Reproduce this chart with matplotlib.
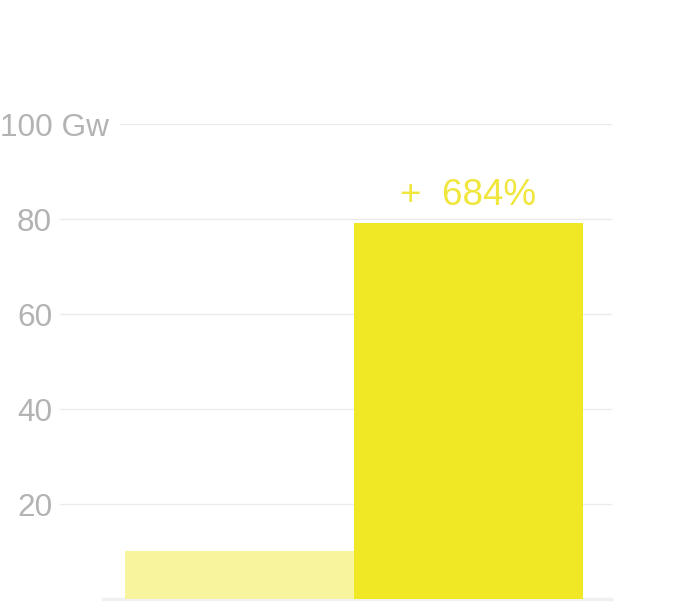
import matplotlib.pyplot as plt

# data
categories = ["before", "after"]
values = [10.1, 79.2]
bar_colors = ["#f8f39d", "#f0e824"]
tick_values = [20, 40, 60, 80, 100]
tick_labels = ["20", "40", "60", "80", "100 Gw"]
change_label = "+  684%"

W, H = 680, 609
fig = plt.figure(figsize=(W / 100, H / 100), dpi=100)
fig.patch.set_facecolor("white")

# axes spans full width; y=0 sits at 599px from top, y=100 at 124px
ax = fig.add_axes([0, 10 / H, 1, 475 / H])
px_per_unit = 229
center0 = 239
ax.set_xlim(-center0 / px_per_unit, (W - center0) / px_per_unit)
ax.set_ylim(0, 100)
ax.axis("off")

grey = "#b3b3b3"
font = "Liberation Sans"

# gridlines (start just after their label)
for v, lab in zip(tick_values, tick_labels):
    x0 = 120 / W if v == 100 else 60 / W
    ax.axhline(v, xmin=x0, xmax=611 / W, color="#ebebeb", lw=1, zorder=0)
    ax.text(17 / W if v != 100 else 0, v - 2.5, lab, transform=ax.get_yaxis_transform(),
            ha="left", va="baseline", fontsize=22.7, color=grey, family=font)

# baseline
ax.axhline(0, xmin=103 / W, xmax=611 / W, color="#f0f0f0", lw=2.5, zorder=1,
           clip_on=False)

x = list(range(len(categories)))
ax.bar(x, values, width=1.0, color=bar_colors, zorder=2)

ax.text(x[1], values[1] + 3.7, change_label, ha="center", va="baseline",
        fontsize=26.5, color="#f0e63c", family=font, clip_on=False)

fig.savefig("out.png", dpi=100, facecolor="white")
